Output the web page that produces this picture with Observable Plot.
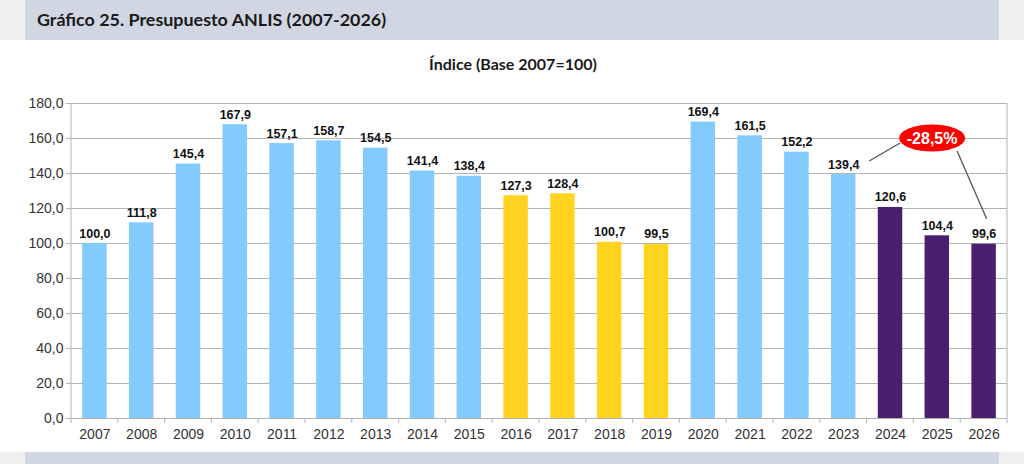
<!DOCTYPE html>
<html><head><meta charset="utf-8">
<script src="https://cdn.jsdelivr.net/npm/d3@7"></script>
<script src="https://cdn.jsdelivr.net/npm/@observablehq/plot@0.6"></script>
<style>
html,body{margin:0;padding:0;background:#fff;}
#page{position:relative;width:1024px;height:464px;overflow:hidden;background:#fff;}
.band{position:absolute;background:#d0d6e2;}
.light{position:absolute;background:#efefef;}
#title{position:absolute;left:37px;top:8px;font:bold 17.9px Lato, sans-serif;color:#1a1a1a;white-space:nowrap;}
#sub{position:absolute;top:54px;left:0;width:1026px;text-align:center;font:bold 16px Lato, sans-serif;color:#1a1a1a;}
#chart{position:absolute;left:0;top:85px;}
</style></head>
<body>
<div id="page">
  <div class="light" style="left:0;top:0;width:25px;height:40px"></div>
  <div class="light" style="left:999px;top:0;width:25px;height:40px"></div>
  <div class="band" style="left:25px;top:0;width:974px;height:40px"></div>
  <div class="light" style="left:0;top:452px;width:25px;height:12px"></div>
  <div class="light" style="left:999px;top:452px;width:25px;height:12px"></div>
  <div class="band" style="left:25px;top:452px;width:974px;height:12px"></div>
  <div id="title">Gráfico 25. Presupuesto ANLIS (2007-2026)</div>
  <div id="sub">Índice (Base 2007=100)</div>
  <div id="chart"></div>
</div>
<script>
const years = ["2007","2008","2009","2010","2011","2012","2013","2014","2015","2016","2017","2018","2019","2020","2021","2022","2023","2024","2025","2026"];
const values = [100.0,111.8,145.4,167.9,157.1,158.7,154.5,141.4,138.4,127.3,128.4,100.7,99.5,169.4,161.5,152.2,139.4,120.6,104.4,99.6];
const groups = ["a","a","a","a","a","a","a","a","a","b","b","b","b","a","a","a","a","c","c","c"];
const groupColors = {a: "#83caff", b: "#ffd320", c: "#4b1f6f"};
const yTicks = [0,20,40,60,80,100,120,140,160,180];
const annotation = {from: "2023", to: "2026", label: "-28,5%", level: 160};

const data = years.map((y, i) => ({year: y, value: values[i], color: groupColors[groups[i]]}));
const fmt = v => v.toFixed(1).replace(".", ",");
const ns = "http://www.w3.org/2000/svg";
const mkIn = g => (tag, attrs) => { const e = document.createElementNS(ns, tag); for (const k in attrs) e.setAttribute(k, attrs[k]); g.appendChild(e); return e; };

function frameMark(index, scales, vals, dims) {
  const x = scales.x, y = scales.y;
  const g = document.createElementNS(ns, "g");
  const mk = mkIn(g);
  const step = x.step(), bw = x.bandwidth();
  const left = dims.marginLeft, right = dims.width - dims.marginRight;
  const y0 = y(0), yTop = y(yTicks[yTicks.length - 1]);
  mk("line", {x1: left, x2: left, y1: yTop, y2: y0, stroke: "#b3b3b3"});
  mk("line", {x1: right, x2: right, y1: yTop, y2: y0, stroke: "#b3b3b3"});
  years.forEach(yr => {
    const bx = x(yr) + bw / 2 - step / 2;
    mk("line", {x1: bx, x2: bx, y1: y0, y2: y0 + 5, stroke: "#b3b3b3"});
  });
  mk("line", {x1: right, x2: right, y1: y0, y2: y0 + 5, stroke: "#b3b3b3"});
  return g;
}

function annotationMark(index, scales, vals, dims) {
  const x = scales.x, y = scales.y;
  const bw = x.bandwidth();
  const step = x.step();
  const g = document.createElementNS(ns, "g");
  const mk = mkIn(g);
  const iFrom = years.indexOf(annotation.from), iTo = years.indexOf(annotation.to);
  const cxFrom = x(annotation.from) + bw / 2, cxTo = x(annotation.to) + bw / 2;
  const yFrom = y(values[iFrom]), yTo = y(values[iTo]);
  const ex = (cxFrom + cxTo) / 2 + step * 0.4, ey = y(annotation.level);
  const rx = 33, ry = 13.5;
  mk("line", {x1: cxFrom + 26, y1: yFrom - 13, x2: ex - rx + 1, y2: ey + 5, stroke: "#555", "stroke-width": 1.3});
  mk("line", {x1: ex + 25, y1: ey + 13, x2: cxTo + 3, y2: yTo - 25, stroke: "#555", "stroke-width": 1.3});
  mk("ellipse", {cx: ex, cy: ey, rx, ry, fill: "#ff0000"});
  const t = mk("text", {x: ex, y: ey, "text-anchor": "middle", dy: "0.36em", fill: "#fff", "font-weight": "bold", "font-size": 16, "font-family": "Liberation Sans, Arial, sans-serif"});
  t.textContent = annotation.label;
  return g;
}

const chart = Plot.plot({
  width: 1024,
  height: 367,
  marginLeft: 71,
  marginRight: 17,
  marginTop: 18,
  marginBottom: 34,
  style: {fontFamily: "Liberation Sans, Arial, sans-serif", background: "transparent", color: "#333"},
  x: {domain: years, paddingInner: 0.477, paddingOuter: 0.2385, round: false, label: null},
  y: {domain: [0, 180], label: null},
  marks: [
    Plot.ruleY(yTicks, {stroke: "#b3b3b3", strokeWidth: 1}),
    frameMark,
    Plot.barY(data, {x: "year", y: "value", fill: "color"}),
    Plot.text(data, {x: "year", y: "value", text: d => fmt(d.value), dy: -6, lineAnchor: "bottom", fontWeight: "bold", fontSize: 12.5, fill: "#111"}),
    Plot.axisY({ticks: yTicks, tickFormat: fmt, tickSize: 5, tickPadding: 3, fontSize: 14, stroke: "#b3b3b3", fill: "#333", label: null}),
    Plot.axisX({tickSize: 0, tickPadding: 11, fontSize: 14, fill: "#333", label: null}),
    annotationMark
  ]
});
document.getElementById("chart").appendChild(chart);
</script>
</body></html>
